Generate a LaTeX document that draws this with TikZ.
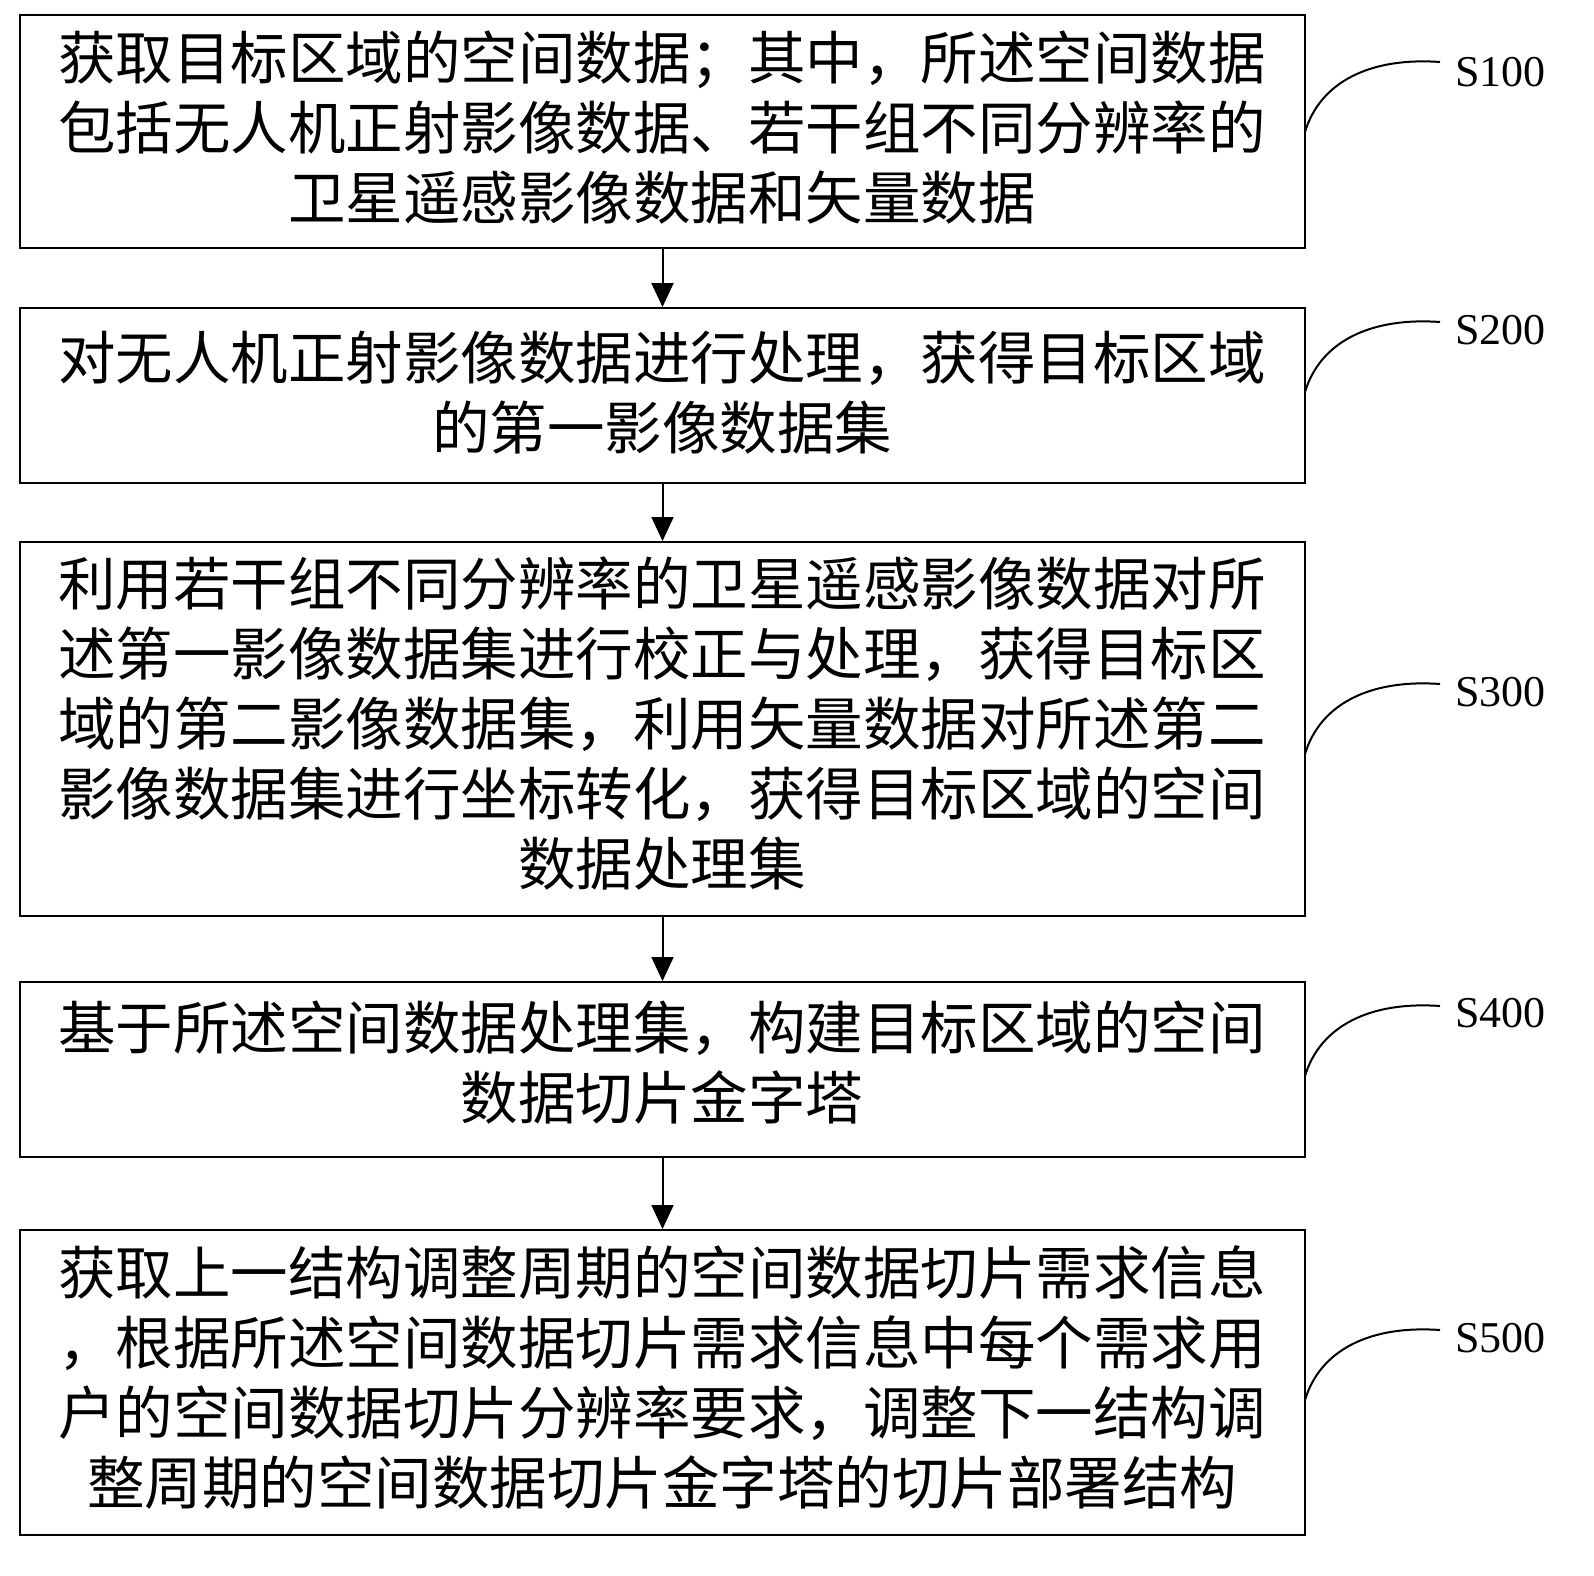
\documentclass[tikz,border=0pt]{standalone}
\usepackage{fontspec}
\setmainfont{Liberation Serif}
\newfontfamily\cjk{Noto Sans CJK SC}
\usetikzlibrary{arrows.meta}
\begin{document}
\begin{tikzpicture}[x=1pt,y=-1pt,
  box/.style={draw,line width=2pt,inner sep=0pt},
  txt/.style={align=center,font=\cjk\fontsize{57.5}{70}\selectfont,inner sep=0pt},
  arr/.style={line width=2pt,-{Triangle[length=24pt,width=22pt]}},
  lab/.style={font=\fontsize{44}{48}\selectfont,anchor=west,inner sep=0pt},
  crv/.style={line width=2pt}]
\useasboundingbox (0,0) rectangle (1594,1575);
\node[box,minimum width=1285pt,minimum height=233pt] (b1) at (662.5,131.5) {};
\node[box,minimum width=1285pt,minimum height=175pt] (b2) at (662.5,395.5) {};
\node[box,minimum width=1285pt,minimum height=374pt] (b3) at (662.5,729) {};
\node[box,minimum width=1285pt,minimum height=175pt] (b4) at (662.5,1069.5) {};
\node[box,minimum width=1285pt,minimum height=305pt] (b5) at (662.5,1382.5) {};
\node[txt] (t1) at (662,128) {获取目标区域的空间数据；其中，所述空间数据\\包括无人机正射影像数据、若干组不同分辨率的\\卫星遥感影像数据和矢量数据};
\node[txt] (t2) at (662,393) {对无人机正射影像数据进行处理，获得目标区域\\的第一影像数据集};
\node[txt] (t3) at (662,724) {利用若干组不同分辨率的卫星遥感影像数据对所\\述第一影像数据集进行校正与处理，获得目标区\\域的第二影像数据集，利用矢量数据对所述第二\\影像数据集进行坐标转化，获得目标区域的空间\\数据处理集};
\node[txt] (t4) at (662,1063) {基于所述空间数据处理集，构建目标区域的空间\\数据切片金字塔};
\node[txt] (t5) at (662,1378) {获取上一结构调整周期的空间数据切片需求信息\\，根据所述空间数据切片需求信息中每个需求用\\户的空间数据切片分辨率要求，调整下一结构调\\整周期的空间数据切片金字塔的切片部署结构};
\draw[arr] (b1.south) -- (b2.north);
\draw[arr] (b2.south) -- (b3.north);
\draw[arr] (b3.south) -- (b4.north);
\draw[arr] (b4.south) -- (b5.north);
\node[lab] (l1) at (1455,72) {S100};
\node[lab] (l2) at (1455,330) {S200};
\node[lab] (l3) at (1455,692) {S300};
\node[lab] (l4) at (1455,1013) {S400};
\node[lab] (l5) at (1455,1338) {S500};
\foreach \b/\l/\y in {b1/l1/62,b2/l2/322,b3/l3/684,b4/l4/1006,b5/l5/1330}{
  \coordinate (s\b) at (1305,\y+70);
  \coordinate (e\b) at (1440,\y);
  \draw[crv] (s\b) .. controls (1320,\y+20) and (1370,\y-5) .. (e\b);
}
\end{tikzpicture}
\end{document}
